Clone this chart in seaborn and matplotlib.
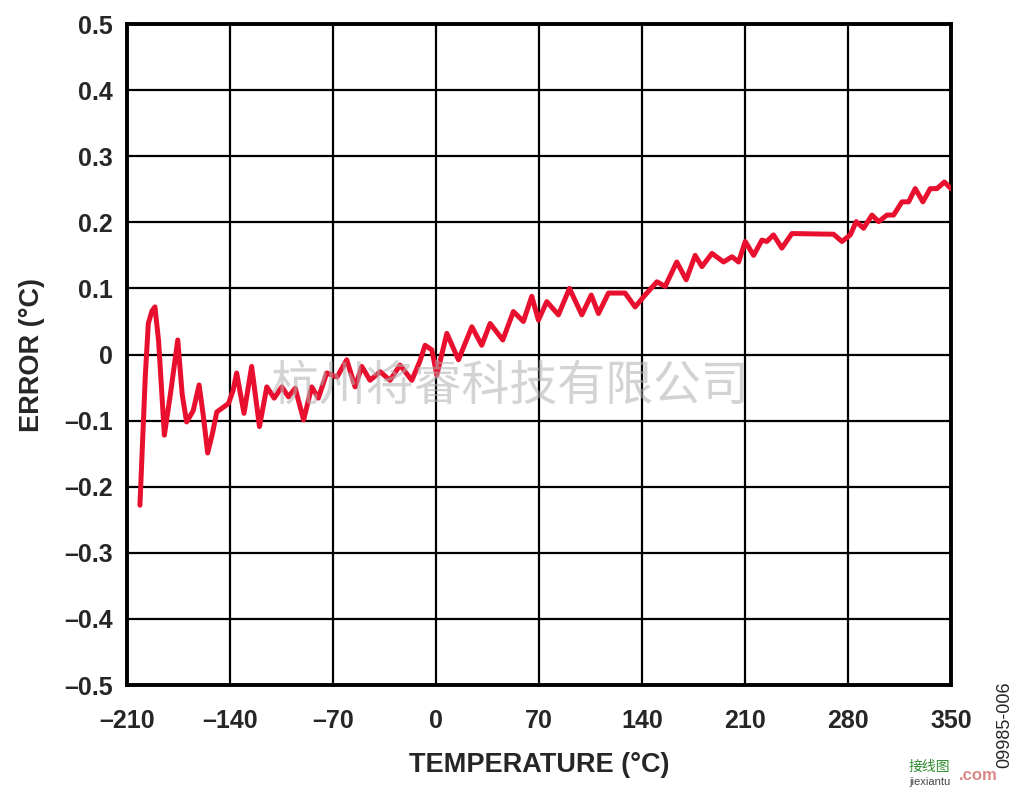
import matplotlib
matplotlib.use('Agg')
import seaborn as sns
import pandas as pd
import matplotlib.pyplot as plt

# error curve (temperature in °C, error in °C)
temperature = [
    -201.2, -197.5, -195.5, -193.0, -191.0, -188.5, -184.6, -180.5, -175.5, -172.5,
    -169.5, -165.0, -161.0, -158.0, -155.2, -152.0, -149.0, -141.0, -138.0, -135.5,
    -130.5, -125.3, -120.0, -115.0, -110.0, -104.8, -100.3, -95.7, -90.0, -84.5,
    -80.0, -74.3, -67.3, -60.7, -55.0, -50.5, -44.9, -38.0, -31.3, -24.5,
    -16.5, -11.0, -7.5, -2.9, 0.5, 7.3, 15.2, 24.3, 31.0, 36.7,
    45.3, 52.5, 59.3, 65.0, 69.5, 75.2, 83.1, 90.6, 99.0, 105.4,
    110.3, 117.1, 128.4, 135.2, 142.0, 150.0, 155.6, 163.5, 169.9, 176.0,
    180.6, 187.4, 195.3, 201.0, 205.5, 210.0, 215.7, 221.3, 224.7, 229.2,
    234.9, 241.7, 270.0, 275.7, 281.4, 285.4, 290.4, 296.1, 300.6, 306.3,
    310.8, 316.5, 321.0, 325.5, 330.7, 335.7, 340.3, 345.3, 349.8,
]
error = [
    -0.228, -0.030, 0.047, 0.066, 0.072, 0.020, -0.122, -0.060, 0.022, -0.060,
    -0.102, -0.085, -0.046, -0.095, -0.149, -0.120, -0.087, -0.074, -0.055, -0.028,
    -0.089, -0.018, -0.109, -0.049, -0.066, -0.049, -0.064, -0.051, -0.099, -0.049,
    -0.066, -0.028, -0.034, -0.008, -0.049, -0.018, -0.039, -0.026, -0.039, -0.016,
    -0.039, -0.010, 0.014, 0.007, -0.031, 0.032, -0.008, 0.042, 0.014, 0.047,
    0.022, 0.065, 0.050, 0.088, 0.052, 0.080, 0.060, 0.100, 0.060, 0.090,
    0.062, 0.093, 0.093, 0.072, 0.090, 0.110, 0.103, 0.140, 0.113, 0.150,
    0.133, 0.153, 0.140, 0.148, 0.140, 0.171, 0.150, 0.173, 0.171, 0.181,
    0.161, 0.183, 0.182, 0.171, 0.181, 0.201, 0.191, 0.211, 0.201, 0.211,
    0.211, 0.231, 0.231, 0.251, 0.231, 0.251, 0.251, 0.261, 0.251,
]

x_ticks = [-210, -140, -70, 0, 70, 140, 210, 280, 350]
x_tick_labels = ['–210', '–140', '–70', '0', '70', '140', '210', '280', '350']
y_ticks = [-0.5, -0.4, -0.3, -0.2, -0.1, 0, 0.1, 0.2, 0.3, 0.4, 0.5]
y_tick_labels = ['–0.5', '–0.4', '–0.3', '–0.2', '–0.1', '0',
                 '0.1', '0.2', '0.3', '0.4', '0.5']

df = pd.DataFrame({'Temperature': temperature, 'Error': error})

sns.set_style('white')
plt.rcParams['font.family'] = ['Liberation Sans', 'DejaVu Sans']

fig = plt.figure(figsize=(10.24, 7.88), dpi=100)
ax = fig.add_axes([0.124, 0.1307, 0.805, 0.8388])

sns.lineplot(data=df, x='Temperature', y='Error', ax=ax, sort=False,
             color='#E8102E', linewidth=3.6, zorder=3,
             solid_joinstyle='round', solid_capstyle='round')

ax.set_xlim(-210, 350)
ax.set_ylim(-0.5, 0.5)
ax.set_xticks(x_ticks)
ax.set_xticklabels(x_tick_labels)
ax.set_yticks(y_ticks)
ax.set_yticklabels(y_tick_labels)
ax.grid(True, color='black', linewidth=1.6)
ax.tick_params(length=0, labelsize=18)
ax.tick_params(axis='x', pad=17)
ax.tick_params(axis='y', pad=10)
for lbl in ax.get_xticklabels() + ax.get_yticklabels():
    lbl.set_fontweight('bold')
for sp in ax.spines.values():
    sp.set_linewidth(2.8)
    sp.set_color('black')

ax.set_xlabel('TEMPERATURE (°C)', fontsize=19.5, fontweight='bold', labelpad=14)
ax.set_ylabel('ERROR (°C)', fontsize=19.5, fontweight='bold', labelpad=14)

# figure code at the right edge
fig.text(0.981, 0.08, '09985-006', rotation=90, fontsize=13, ha='center', va='center')

# watermarks
ax.text(0.465, 0.453, '杭州将睿科技有限公司', transform=ax.transAxes, fontsize=34.5,
        color='#b0b0b0', alpha=0.55, ha='center', va='center', zorder=4,
        family=['Noto Sans CJK SC', 'DejaVu Sans'])
fig.text(0.908, 0.022, '接线图', fontsize=10, color='#2e8b2e', ha='center',
         family=['Noto Sans CJK SC', 'DejaVu Sans'])
fig.text(0.908, 0.004, 'jiexiantu', fontsize=8, color='#444444', ha='center')
fig.text(0.955, 0.01, '.com', fontsize=12, color='#d98888', fontweight='bold', ha='center')

plt.savefig('out.png', dpi=100)
